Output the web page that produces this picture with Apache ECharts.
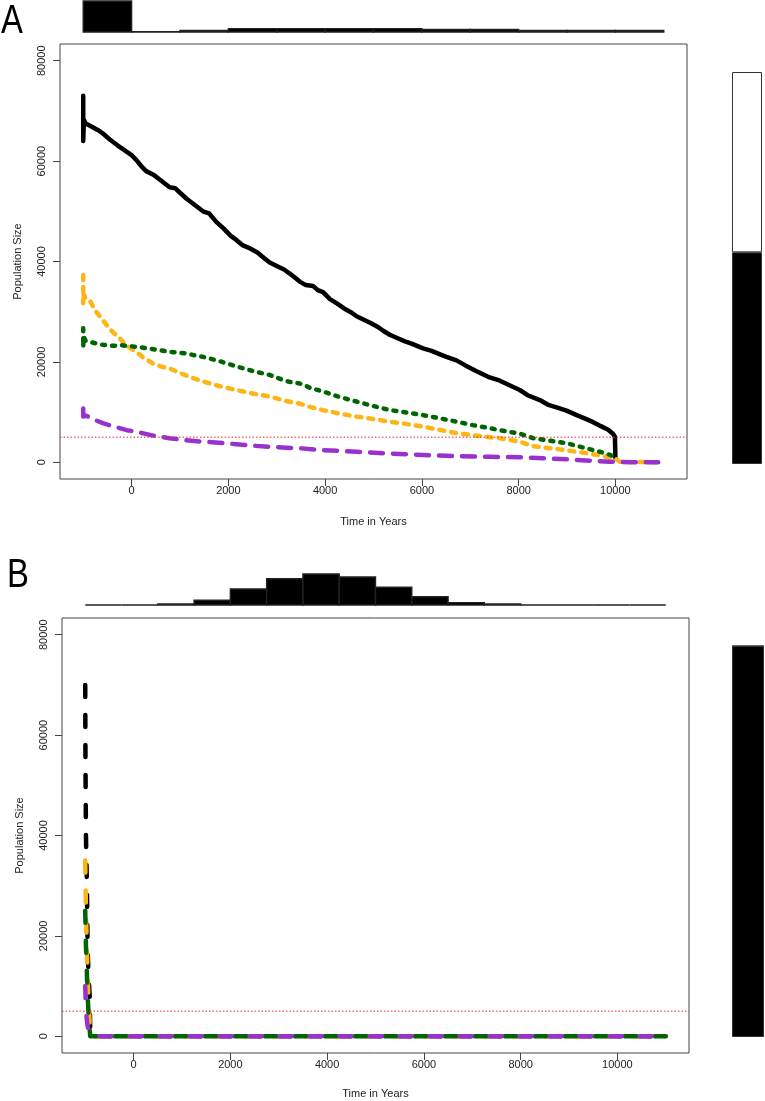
<!DOCTYPE html>
<html><head><meta charset="utf-8">
<script src="https://cdn.jsdelivr.net/npm/echarts@6/dist/echarts.min.js"></script>
<style>html,body{margin:0;padding:0;background:#fff}#c{width:765px;height:1101px}</style>
</head><body><div id="c"></div>
<script>
// ---------- DATA ----------
const xTicks = [0, 2000, 4000, 6000, 8000, 10000];
const yTicks = [0, 20000, 40000, 60000, 80000];
const threshold = 5000;

// Panel A trajectories [year, population]
const blackA = [[-1000,70000],[-1000,73000],[-1000,64000],[-985,68200],[-950,67500],[-850,67000],[-700,66200],[-593,65500],[-450,64300],[-300,63200],[-150,62200],[0,61200],[100,60200],[200,59000],[300,58000],[450,57300],[600,56200],[786,54800],[900,54600],[1000,53700],[1150,52400],[1300,51300],[1475,50000],[1600,49600],[1750,47900],[1900,46600],[2050,45100],[2165,44300],[2300,43200],[2450,42600],[2600,41800],[2750,40600],[2854,39800],[3000,39100],[3150,38400],[3268,37600],[3400,36600],[3474,36000],[3600,35300],[3750,35100],[3850,34300],[3956,33900],[4100,32500],[4250,31600],[4400,30600],[4550,29800],[4649,29100],[4800,28400],[4950,27700],[5100,26900],[5200,26200],[5335,25400],[5500,24700],[5650,24100],[5800,23600],[6024,22700],[6200,22200],[6350,21600],[6508,21000],[6715,20300],[6900,19300],[7100,18300],[7250,17600],[7400,16900],[7600,16300],[7800,15400],[8024,14400],[8200,13300],[8438,12400],[8600,11500],[8800,10900],[8990,10300],[9200,9400],[9400,8600],[9540,8000],[9700,7200],[9850,6500],[9950,5700],[9990,5100],[10000,900]];
const orangeA = [[-1000,37300],[-1000,31700],[-990,33500],[-950,32600],[-868,32300],[-750,30200],[-593,28300],[-450,26500],[-248,24700],[-100,23200],[97,22000],[250,20800],[441,19700],[600,19100],[786,18700],[1000,17800],[1200,17000],[1475,16100],[1800,15200],[2165,14400],[2500,13700],[2854,13100],[3200,12200],[3474,11700],[3700,11000],[3956,10400],[4300,9700],[4649,9100],[5000,8600],[5335,8100],[5700,7600],[6024,7100],[6400,6400],[6715,5800],[7050,5400],[7400,5000],[7610,4800],[8024,4100],[8300,3200],[8650,2800],[8990,2400],[9350,1900],[9678,1400],[9850,1000],[9990,800],[10100,100],[10500,50],[10885,0]];
const greenA = [[-1000,26700],[-1000,23000],[-990,25000],[-950,24200],[-868,24000],[-750,23700],[-593,23400],[-400,23200],[-200,23300],[97,23000],[400,22600],[786,22000],[1100,21700],[1475,21000],[1800,20200],[2165,19100],[2500,18200],[2854,17400],[3100,16500],[3268,16000],[3474,15700],[3700,14800],[3956,14100],[4300,13000],[4649,12100],[5000,11200],[5335,10400],[5700,9900],[6024,9400],[6400,8700],[6715,8100],[7050,7400],[7400,6800],[7610,6400],[8024,5700],[8300,4800],[8650,4300],[8990,3800],[9350,2900],[9678,2100],[9850,1600],[9990,1100]];
const purpleA = [[-1000,10700],[-1000,9100],[-950,9300],[-868,9000],[-750,8400],[-593,7800],[-400,7200],[-248,6800],[-100,6400],[97,6100],[400,5400],[786,4800],[1100,4400],[1475,4100],[1800,3900],[2165,3600],[2500,3300],[2854,3100],[3200,2900],[3474,2800],[3800,2500],[4250,2300],[4649,2100],[5300,1750],[6024,1450],[6700,1250],[7400,1100],[8024,1000],[8500,800],[8990,600],[9500,300],[9885,120],[10300,30],[10885,0]];

// Panel B trajectories
const blackB = [[-1000,70000],[-995,55000],[-985,40000],[-965,30000],[-950,17000],[-930,12000],[-908,8000],[-895,0],[11000,0]];
const orangeB = [[-1000,35000],[-985,25000],[-960,15000],[-935,8000],[-910,3000],[-895,0],[11000,0]];
const greenB = [[-1000,25000],[-985,18000],[-960,11000],[-935,5000],[-910,1500],[-895,0],[11000,0]];
const purpleB = [[-1000,10000],[-990,7000],[-975,4000],[-950,2000],[-910,500],[-895,0],[11000,0]];

// Histograms (bin edges and counts)
const histAEdges = [-1000,0,1000,2000,3000,4000,5000,6000,7000,8000,9000,10000,11000];
const histACounts = [100,1,5,11,11,11,11,8,8,5,5,5];
const histBEdges = [-1000,-250,500,1250,2000,2750,3500,4250,5000,5750,6500,7250,8000,8750,9500,10250,11000];
const histBCounts = [0,0,3,14,47,77,91,82,52,24,7,3,0,0,0,0];

// Proportion bars [black share, white share]
const barA = [0.54, 0.46];
const barB = [1.0, 0.0];

// ---------- CHART ----------
const XMIN = -1480, XMAX = 11480, YMIN = -3330, YMAX = 83330;
const colors = {black:'#000000', orange:'#FDB515', green:'#006400', purple:'#9932CC', red:'#E8262B'};
const FONT = "'Liberation Sans', Arial, sans-serif";
const plain = v => String(v);

function histData(edges, counts){ return counts.map((c,i)=>[edges[i], edges[i+1], c]); }

function histSeries(idx, edges, counts){
  return {
    type:'custom', xAxisIndex:idx, yAxisIndex:idx, silent:true,
    data: histData(edges, counts),
    encode:{x:[0,1], y:2},
    renderItem:(params, api)=>{
      const p0 = api.coord([api.value(0), 0]);
      const p1 = api.coord([api.value(1), api.value(2)]);
      return {type:'rect', shape:{x:p0[0], y:p1[1], width:p1[0]-p0[0], height:Math.max(p0[1]-p1[1],0)},
        style:{fill:'#000', stroke:'#222', lineWidth:1.4}};
    }
  };
}

function mainX(idx, margin, gap){
  return {type:'value', gridIndex:idx, min:XMIN, max:XMAX, position:'bottom',
    axisLine:{show:false, onZero:false}, splitLine:{show:false},
    axisTick:{show:true, length:7, customValues:xTicks, lineStyle:{color:'#444', width:1}},
    axisLabel:{customValues:xTicks, formatter:plain, fontSize:11, color:'#222', margin:margin, fontFamily:FONT},
    name:'Time in Years', nameLocation:'middle', nameGap:gap,
    nameTextStyle:{fontSize:11, color:'#222', fontFamily:FONT}};
}
function mainY(idx){
  return {type:'value', gridIndex:idx, min:YMIN, max:YMAX, position:'left',
    axisLine:{show:false, onZero:false}, splitLine:{show:false},
    axisTick:{show:true, length:7, customValues:yTicks, lineStyle:{color:'#444', width:1}},
    axisLabel:{customValues:yTicks, formatter:plain, rotate:90, fontSize:11, color:'#222', margin:13, fontFamily:FONT},
    name:'Population Size', nameLocation:'middle', nameGap:37, nameRotate:90,
    nameTextStyle:{fontSize:11, color:'#222', fontFamily:FONT}};
}
function hiddenX(idx){ return {type:'value', gridIndex:idx, min:XMIN, max:XMAX, show:false}; }
function hiddenY(idx, max){ return {type:'value', gridIndex:idx, min:0, max:max, show:false}; }

function lineS(idx, data, color, dash, z, width){
  return {type:'line', xAxisIndex:idx, yAxisIndex:idx, data:data, showSymbol:false, symbol:'none',
    silent:true, z:z, lineStyle:{color:color, width:width||4.5, type:dash, cap:'round', join:'round'}};
}
function thresholdLine(idx){
  return {type:'line', xAxisIndex:idx, yAxisIndex:idx, data:[[XMIN, threshold],[XMAX, threshold]],
    showSymbol:false, symbol:'none', silent:true, z:10,
    lineStyle:{color:colors.red, width:1, type:[1.5,2], cap:'butt'}};
}

function barSeries(idx, vals){
  return [
    {type:'bar', xAxisIndex:idx, yAxisIndex:idx, stack:'p'+idx, data:[vals[0]], barWidth:'100%', silent:true,
     itemStyle:{color:'#000', borderColor:'#333', borderWidth:1}},
    {type:'bar', xAxisIndex:idx, yAxisIndex:idx, stack:'p'+idx, data:[vals[1]], barWidth:'100%', silent:true,
     itemStyle:{color:'#fff', borderColor:'#333', borderWidth:1}}
  ];
}

const letterFont = "'Liberation Sans', Arial, sans-serif";
const option = {
  animation:false,
  backgroundColor:'#fff',
  textStyle:{fontFamily:FONT},
  grid:[
    {left:60, top:1, width:627, height:31},
    {left:60, top:44, width:627, height:435, show:true, borderColor:'#444', borderWidth:1, backgroundColor:'transparent'},
    {left:732, top:72, width:30, height:392},
    {left:62, top:574, width:627, height:31},
    {left:62, top:618, width:627, height:435, show:true, borderColor:'#444', borderWidth:1, backgroundColor:'transparent'},
    {left:732, top:646, width:32, height:391}
  ],
  xAxis:[
    hiddenX(0), mainX(1, 6, 37),
    {type:'category', gridIndex:2, data:['p'], show:false},
    hiddenX(3), mainX(4, 6, 35),
    {type:'category', gridIndex:5, data:['p'], show:false}
  ],
  yAxis:[
    hiddenY(0, 100), mainY(1), hiddenY(2, 1),
    hiddenY(3, 91), mainY(4), hiddenY(5, 1)
  ],
  graphic:[
    {type:'text', x:1, y:2, scaleX:0.82, style:{text:'A', fontSize:40, fontFamily:letterFont, fill:'#000'}},
    {type:'text', x:7, y:556, scaleX:0.82, style:{text:'B', fontSize:40, fontFamily:letterFont, fill:'#000'}}
  ],
  series:[
    histSeries(0, histAEdges, histACounts),
    lineS(1, blackA, colors.black, 'solid', 2),
    lineS(1, orangeA, colors.orange, [5,7], 3),
    lineS(1, greenA, colors.green, [3,7], 4),
    lineS(1, purpleA, colors.purple, [13,10], 5),
    thresholdLine(1),
    ...barSeries(2, barA),
    histSeries(3, histBEdges, histBCounts),
    lineS(4, blackB, colors.black, [12,18], 2),
    lineS(4, orangeB, colors.orange, [12,18], 3),
    lineS(4, greenB, colors.green, [12,18], 4),
    lineS(4, purpleB, colors.purple, [12,18], 5),
    thresholdLine(4),
    ...barSeries(5, barB)
  ]
};
const chart = echarts.init(document.getElementById('c'), null, {renderer:'canvas'});
chart.setOption(option);
</script></body></html>
